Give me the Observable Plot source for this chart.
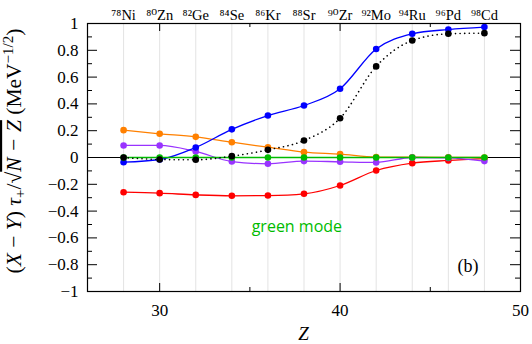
<!DOCTYPE html>
<html>
<head>
<meta charset="utf-8">
<script src="https://cdn.jsdelivr.net/npm/d3@7"></script>
<script src="https://cdn.jsdelivr.net/npm/@observablehq/plot@0.6"></script>
<style>
  body { margin: 0; background: #fff; }
  #chart svg { display: block; }
</style>
</head>
<body>
<div id="chart"></div>
<script>
// ---- data ----
const Z = [28, 30, 32, 34, 36, 38, 40, 42, 44, 46, 48];
const nuclei = ["⁷⁸Ni", "⁸⁰Zn", "⁸²Ge", "⁸⁴Se", "⁸⁶Kr", "⁸⁸Sr", "⁹⁰Zr", "⁹²Mo", "⁹⁴Ru", "⁹⁶Pd", "⁹⁸Cd"];
const blueVals   = [-0.035, -0.015, 0.075, 0.21, 0.313, 0.388, 0.513, 0.81, 0.923, 0.955, 0.973];
const blackVals  = [0.0, -0.015, -0.017, 0.01, 0.057, 0.127, 0.293, 0.68, 0.873, 0.923, 0.928];
const orangeVals = [0.204, 0.177, 0.154, 0.114, 0.077, 0.04, 0.025, 0.003, 0.002, 0.001, 0.0];
const purpleVals = [0.09, 0.09, 0.045, -0.03, -0.047, -0.027, -0.032, -0.037, 0.0, -0.003, -0.027];
const greenVals  = [0, 0, 0, 0, 0, 0, 0, 0, 0, 0, 0];
const redVals    = [-0.259, -0.266, -0.279, -0.286, -0.284, -0.271, -0.209, -0.097, -0.042, -0.022, -0.008];

const xTickLabels = [30, 40, 50];
const xMajorTicks = [30, 40, 50];
const xMinorTicks = [35, 45];
const yTickLabels = [-1, -0.8, -0.6, -0.4, -0.2, 0, 0.2, 0.4, 0.6, 0.8, 1];
const yMinorTicks = [-0.9, -0.7, -0.5, -0.3, -0.1, 0.1, 0.3, 0.5, 0.7, 0.9];

const annotations = [
  {x: 35.1, y: -0.52, text: "green mode", kind: "green"},
  {x: 47.67, y: -0.81, text: "(b)", kind: "panel"}
];

const colors = {
  blue: "#0000ff", black: "#000000", orange: "#ff8000",
  purple: "#9933ff", green: "#00bb00", red: "#ff0000"
};

const series = [
  {name: "red", vals: redVals},
  {name: "orange", vals: orangeVals},
  {name: "purple", vals: purpleVals},
  {name: "blue", vals: blueVals},
  {name: "green", vals: greenVals},
  {name: "black", vals: blackVals, dotted: true}
];

// ---- layout ----
const W = 532, H = 344, mL = 87, mR = 12, mT = 23, mB = 53;
const pw = W - mL - mR, ph = H - mT - mB;
const serif = "'Liberation Serif', 'DejaVu Serif', serif";

const marks = [
  Plot.ruleX(Z, {stroke: "#e3e3e3", strokeWidth: 1}),
  Plot.ruleY([0], {stroke: "#000", strokeWidth: 1}),
  // inward ticks
  Plot.ruleY(yTickLabels, {insetRight: pw - 10, stroke: "#000"}),
  Plot.ruleY(yTickLabels, {insetLeft: pw - 10, stroke: "#000"}),
  Plot.ruleY(yMinorTicks, {insetRight: pw - 5, stroke: "#000"}),
  Plot.ruleY(yMinorTicks, {insetLeft: pw - 5, stroke: "#000"}),
  Plot.ruleX(xMajorTicks, {insetTop: ph - 8, stroke: "#000"}),
  Plot.ruleX(xMajorTicks, {insetBottom: ph - 8, stroke: "#000"}),
  Plot.ruleX(xMinorTicks, {insetTop: ph - 4, stroke: "#000"}),
  Plot.ruleX(xMinorTicks, {insetBottom: ph - 4, stroke: "#000"}),
];

for (const s of series) {
  const rows = Z.map((z, i) => ({Z: z, v: s.vals[i]}));
  marks.push(Plot.line(rows, {
    x: "Z", y: "v", stroke: colors[s.name], curve: "monotone-x",
    strokeWidth: s.dotted ? 1.6 : 1.3,
    strokeDasharray: s.dotted ? "0.1,4.5" : null,
    strokeLinecap: s.dotted ? "round" : "butt"
  }));
}
for (const s of series) {
  const rows = Z.map((z, i) => ({Z: z, v: s.vals[i]}));
  marks.push(Plot.dot(rows, {x: "Z", y: "v", r: 3.3, fill: colors[s.name], stroke: "none"}));
}

marks.push(
  Plot.frame({stroke: "#000", strokeWidth: 1.2}),
  Plot.axisX({anchor: "bottom", ticks: xTickLabels, tickSize: 0, tickPadding: 12,
              fontSize: 17, label: null, fontFamily: serif}),
  Plot.axisX({anchor: "top", ticks: Z, tickSize: 0, tickPadding: 4,
              tickFormat: d => nuclei[Z.indexOf(d)], fontSize: 14.5, label: null, fontFamily: serif}),
  Plot.axisY({anchor: "left", ticks: yTickLabels, tickSize: 0, tickPadding: 9,
              tickFormat: d => d < 0 ? "−" + Math.abs(d) : String(d),
              fontSize: 17, label: null, fontFamily: serif}),
  Plot.text(annotations.filter(a => a.kind === "green"), {
    x: "x", y: "y", text: "text", fill: colors.green, textAnchor: "start",
    fontSize: 16, fontFamily: "'Open Sans', 'Liberation Sans', sans-serif"
  }),
  Plot.text(annotations.filter(a => a.kind === "panel"), {
    x: "x", y: "y", text: "text", fill: "#000", textAnchor: "end",
    fontSize: 18, fontFamily: serif
  })
);

const chart = Plot.plot({
  width: W, height: H,
  marginLeft: mL, marginRight: mR, marginTop: mT, marginBottom: mB,
  x: {domain: [26, 50]},
  y: {domain: [-1, 1]},
  style: {fontFamily: serif, color: "#000", background: "#fff", overflow: "visible"},
  marks
});

const svg = d3.select(chart);
// x label
svg.append("text")
  .attr("x", mL + pw / 2).attr("y", H - 4)
  .attr("text-anchor", "middle")
  .attr("font-family", serif).attr("font-size", 19).attr("font-style", "italic")
  .text("Z");

// y label
const yl = svg.append("text")
  .attr("transform", `translate(21,${mT + ph / 2 - 6}) rotate(-90)`)
  .attr("text-anchor", "middle")
  .attr("font-family", serif).attr("font-size", 21.5);
yl.append("tspan").text("(");
yl.append("tspan").attr("font-style", "italic").text("X");
yl.append("tspan").text(" − ");
yl.append("tspan").attr("font-style", "italic").text("Y");
yl.append("tspan").text(") ");
yl.append("tspan").attr("font-style", "italic").text("τ");
yl.append("tspan").attr("font-size", 15).attr("dy", 4).text("+");
yl.append("tspan").attr("dy", -4).text("/√");
yl.append("tspan").attr("font-style", "italic").style("text-decoration", "overline").text("N − Z");
yl.append("tspan").text(" (MeV");
yl.append("tspan").attr("font-size", 15).attr("dy", -8).text("−1/2");
yl.append("tspan").attr("dy", 8).text(")");

document.getElementById("chart").appendChild(chart);
</script>
</body>
</html>
